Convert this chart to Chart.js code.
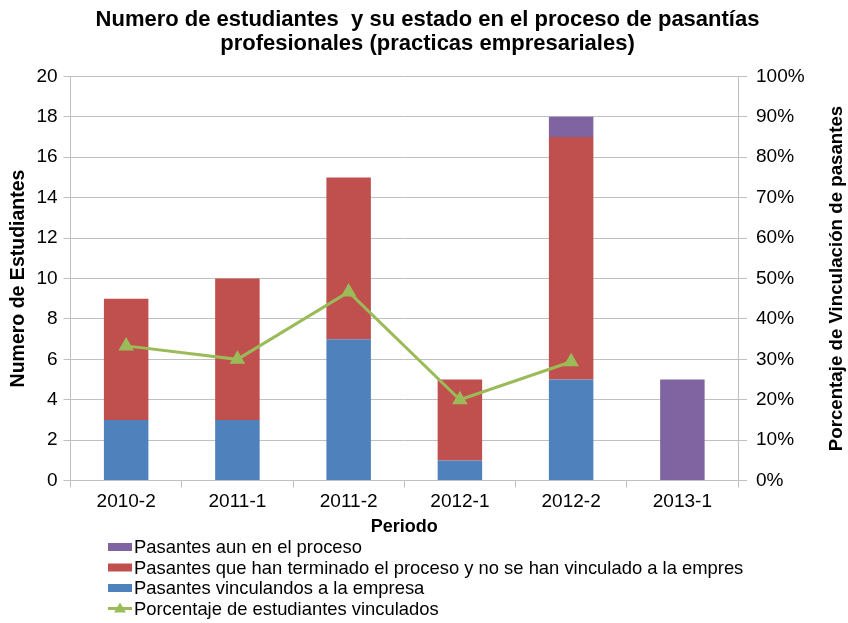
<!DOCTYPE html>
<html>
<head>
<meta charset="utf-8">
<script src="https://cdn.jsdelivr.net/npm/chart.js@4.4.1/dist/chart.umd.min.js"></script>
<style>
html,body{margin:0;padding:0;background:#fff;}
#wrap{width:848px;height:623px;}
</style>
</head>
<body>
<div id="wrap"><canvas id="c" width="848" height="623"></canvas></div>
<script>
const categories = ['2010-2','2011-1','2011-2','2012-1','2012-2','2013-1'];
const vinculados = [3, 3, 7, 1, 5, 0];
const terminadosNoVinculados = [6, 7, 8, 4, 12, 0];
const enProceso = [0, 0, 0, 0, 1, 5];
const porcentajeVinculados = [33.33, 30, 46.67, 20, 29.41, null];
const leftTicks = [0,2,4,6,8,10,12,14,16,18,20];
const rightTicks = [0,10,20,30,40,50,60,70,80,90,100];

const titleText = ['Numero de estudiantes  y su estado en el proceso de pasantías','profesionales (practicas empresariales)'];
const labelEnProceso = 'Pasantes aun en el proceso';
const labelTerminados = 'Pasantes que han terminado el proceso y no se han vinculado a la empres';
const labelVinculados = 'Pasantes vinculandos a la empresa';
const labelPorcentaje = 'Porcentaje de estudiantes vinculados';
const rightTitleText = 'Porcentaje de Vinculación de pasantes';

const BLUE = '#4F81BD', RED = '#C0504D', PURPLE = '#8064A2', GREEN = '#9BBB59';
const FONT = "'Liberation Sans', Arial, sans-serif";
const GRID = '#c0c0c0';

const legendOrder = [2, 1, 0, 3];

const customLegend = {
  id: 'customLegend',
  afterDraw(chart) {
    const ctx = chart.ctx;
    const x0 = 108, y0 = 547, dy = 20.5, bw = 24, bh = 8;
    ctx.save();
    ctx.font = "18.4px " + FONT;
    ctx.textBaseline = 'middle';
    ctx.textAlign = 'left';
    legendOrder.forEach((di, i) => {
      const ds = chart.data.datasets[di];
      const y = y0 + i * dy;
      if (ds.type === 'line') {
        ctx.strokeStyle = ds.borderColor;
        ctx.lineWidth = 3;
        ctx.beginPath(); ctx.moveTo(x0, y); ctx.lineTo(x0 + bw, y); ctx.stroke();
        ctx.fillStyle = ds.pointBackgroundColor;
        ctx.beginPath();
        ctx.moveTo(x0 + bw / 2, y - 6); ctx.lineTo(x0 + bw / 2 + 6, y + 4); ctx.lineTo(x0 + bw / 2 - 6, y + 4); ctx.closePath();
        ctx.fill();
      } else {
        ctx.fillStyle = ds.backgroundColor;
        ctx.fillRect(x0, y - bh / 2, bw, bh);
      }
      ctx.fillStyle = '#000';
      ctx.fillText(ds.label, x0 + bw + 2, y + 1);
    });
    ctx.restore();
  }
};

const rightTitle = {
  id: 'rightTitle',
  afterDraw(chart) {
    const ctx = chart.ctx;
    ctx.save();
    ctx.font = "bold 18.7px " + FONT;
    ctx.fillStyle = '#000';
    ctx.textAlign = 'center';
    ctx.textBaseline = 'middle';
    ctx.translate(837, (chart.chartArea.top + chart.chartArea.bottom) / 2);
    ctx.rotate(-Math.PI / 2);
    ctx.fillText(rightTitleText, 0, 0);
    ctx.restore();
  }
};

new Chart(document.getElementById('c'), {
  type: 'bar',
  data: {
    labels: categories,
    datasets: [
      { label: labelVinculados, data: vinculados, backgroundColor: BLUE, yAxisID: 'y', order: 1, categoryPercentage: 1, barPercentage: 0.4 },
      { label: labelTerminados, data: terminadosNoVinculados, backgroundColor: RED, yAxisID: 'y', order: 1, categoryPercentage: 1, barPercentage: 0.4 },
      { label: labelEnProceso, data: enProceso, backgroundColor: PURPLE, yAxisID: 'y', order: 1, categoryPercentage: 1, barPercentage: 0.4 },
      { type: 'line', label: labelPorcentaje, data: porcentajeVinculados, yAxisID: 'y2', order: 0,
        borderColor: GREEN, backgroundColor: GREEN, pointBackgroundColor: GREEN, pointBorderColor: GREEN,
        borderWidth: 3, pointStyle: 'triangle', pointRadius: 6, pointHoverRadius: 6, spanGaps: false, stack: 'line' }
    ]
  },
  options: {
    responsive: false,
    animation: false,
    devicePixelRatio: 1,
    layout: { padding: { left: 7, right: 0, top: 4, bottom: 85 } },
    plugins: {
      legend: { display: false },
      tooltip: { enabled: false },
      title: {
        display: true, text: titleText, color: '#000',
        font: { family: FONT, size: 22, weight: 'bold', lineHeight: 1.1 },
        padding: { top: 4, bottom: 20 }
      }
    },
    scales: {
      x: {
        stacked: true,
        grid: { display: true, drawOnChartArea: false, drawTicks: true, tickLength: 7, color: GRID, offset: true },
        border: { display: true, color: GRID },
        ticks: { color: '#000', font: { family: FONT, size: 19 }, padding: 3 },
        title: { display: true, text: 'Periodo', color: '#000', font: { family: FONT, size: 18, weight: 'bold' }, padding: { top: 0, bottom: 0 } }
      },
      y: {
        stacked: true, position: 'left', min: 0, max: 20,
        afterBuildTicks(scale) { scale.ticks = leftTicks.map(v => ({ value: v })); },
        grid: { color: GRID, tickLength: 7 },
        border: { display: true, color: GRID },
        ticks: { color: '#000', font: { family: FONT, size: 19 }, padding: 6 },
        title: { display: true, text: 'Numero de Estudiantes', color: '#000', font: { family: FONT, size: 19.5, weight: 'bold' }, padding: { top: 0, bottom: 0 } }
      },
      y2: {
        position: 'right', min: 0, max: 100,
        afterBuildTicks(scale) { scale.ticks = rightTicks.map(v => ({ value: v })); },
        afterFit(scale) { scale.width = 110; },
        grid: { drawOnChartArea: false, color: GRID, tickLength: 9 },
        border: { display: true, color: GRID },
        ticks: { color: '#000', font: { family: FONT, size: 19 }, padding: 9, callback: v => v + '%' }
      }
    }
  },
  plugins: [customLegend, rightTitle]
});
</script>
</body>
</html>
